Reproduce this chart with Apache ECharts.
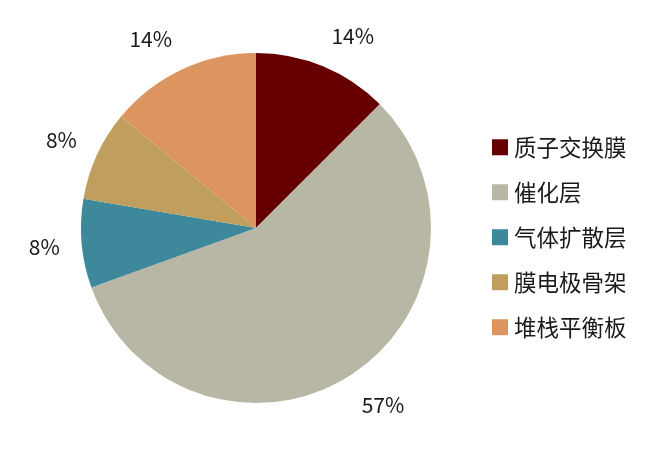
<!DOCTYPE html>
<html><head><meta charset="utf-8">
<script src="https://cdn.jsdelivr.net/npm/echarts@6/dist/echarts.min.js"></script>
<style>html,body{margin:0;padding:0;background:#fff}#c{width:672px;height:458px}</style>
</head><body><div id="c"></div>
<script>
var categories = ['质子交换膜', '催化层', '气体扩散层', '膜电极骨架', '堆栈平衡板'];
var values = [12.5, 56.9, 8.2, 8.3, 14.0];
var valueLabels = ['14%', '57%', '8%', '8%', '14%'];
var colors = ['#660000', '#b8b7a6', '#3e889c', '#bf9e5e', '#dd9560'];

var CX = 256, CY = 228, R = 175, LABEL_R = 197;
var total = values.reduce(function (a, b) { return a + b; }, 0);
function midAngle(i) {
  var s = 0;
  for (var k = 0; k < i; k++) s += values[k];
  return (s + values[i] / 2) / total * Math.PI * 2;
}
function clamp(v) { return Math.max(-1, Math.min(1, v)); }

var chart = echarts.init(document.getElementById('c'), null, { renderer: 'canvas' });
chart.setOption({
  animation: false,
  textStyle: { fontFamily: 'Noto Sans CJK SC' },
  color: colors,
  legend: {
    orient: 'vertical',
    left: 487,
    top: 131,
    itemWidth: 16,
    itemHeight: 16,
    itemGap: 22.5,
    icon: 'rect',
    data: categories,
    textStyle: { fontSize: 22.5, color: '#1a1a1a', fontFamily: 'Noto Sans CJK SC', padding: [0, 0, 0, 1] }
  },
  series: [{
    type: 'pie',
    center: [CX, CY],
    radius: [0, R],
    startAngle: 90,
    clockwise: true,
    silent: true,
    itemStyle: { borderWidth: 0 },
    label: {
      show: true,
      position: 'outside',
      alignTo: 'none',
      overflow: 'none',
      fontSize: 21,
      color: '#1a1a1a',
      fontFamily: 'Noto Sans CJK SC',
      formatter: function (p) { return valueLabels[p.dataIndex]; }
    },
    labelLine: { show: false },
    labelLayout: function (p) {
      var a = midAngle(p.dataIndex);
      var ux = Math.sin(a), uy = -Math.cos(a);
      var w = p.labelRect.width, h = p.labelRect.height;
      var ax = CX + LABEL_R * ux, ay = CY + LABEL_R * uy;
      return {
        x: ax + w / 2 * clamp(ux / 0.3),
        y: ay + h / 2 * clamp(uy / 0.7),
        align: 'center',
        verticalAlign: 'middle'
      };
    },
    data: categories.map(function (c, i) { return { name: c, value: values[i] }; })
  }]
});
</script>
</body></html>
